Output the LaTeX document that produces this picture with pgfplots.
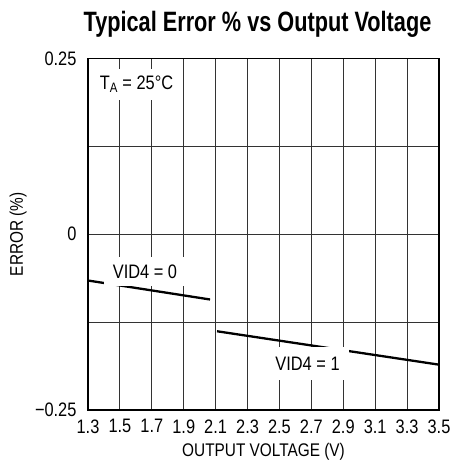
\documentclass[border=0pt]{standalone}
\usepackage{fontspec}
\setmainfont{Liberation Sans}[FakeStretch=0.84]
\newfontfamily\titlefont{Liberation Sans}[FakeStretch=0.775,BoldFont={* Bold}]
\usepackage{pgfplots}
\pgfplotsset{compat=1.18}
\begin{document}
\begin{tikzpicture}[x=1pt,y=1pt]
\path[use as bounding box] (-88,-54) rectangle (365,410);
\begin{axis}[
  at={(0,0)}, anchor=south west,
  scale only axis, width=351pt, height=351.5pt,
  xmin=1.3, xmax=3.5, ymin=-0.25, ymax=0.25,
  xtick={1.3,1.5,...,3.5},
  xticklabels={1.3,1.5,1.7,1.9,2.1,2.3,2.5,2.7,2.9,3.1,3.3,3.5},
  ytick={-0.25,-0.125,0,0.125,0.25},
  yticklabels={\llap{−}0.25,,0,,0.25},
  grid=major,
  major grid style={line width=0.9pt, black!80},
  axis line style={line width=1.6pt},
  major tick length=0pt,
  tick label style={font=\fontsize{19.5}{21}\selectfont},
  xticklabel style={yshift=-6pt},
  yticklabel style={xshift=-8pt},
  /pgf/number format/assume math mode=true,
  xlabel={OUTPUT VOLTAGE (V)},
  ylabel={ERROR (\%)},
  label style={font=\fontsize{18.3}{20}\selectfont},
  xlabel style={yshift=-3pt},
  ylabel style={yshift=11pt},
  clip=false,
]
\addplot[black, line width=2.3pt] coordinates {(1.3,-0.0658) (2.065,-0.0928)};
\addplot[black, line width=2.3pt] coordinates {(2.109,-0.138) (3.5,-0.1855)};
\node[fill=white, inner xsep=5pt, inner ysep=7pt, font=\fontsize{19.5}{21}\selectfont] at (axis cs:1.604,0.213) {T\textsubscript{A} = 25°C};
\node[fill=white, inner xsep=9pt, inner ysep=8pt, font=\fontsize{19.5}{21}\selectfont] at (axis cs:1.657,-0.053) {VID4 = 0};
\node[fill=white, inner xsep=9pt, inner ysep=10pt, font=\fontsize{19.5}{21}\selectfont] at (axis cs:2.676,-0.184) {VID4 = 1};
\end{axis}
\node[font=\titlefont\bfseries\fontsize{28}{30}\selectfont, anchor=base] at (169.5,378.3) {Typical Error \% vs Output Voltage};
\end{tikzpicture}
\end{document}
